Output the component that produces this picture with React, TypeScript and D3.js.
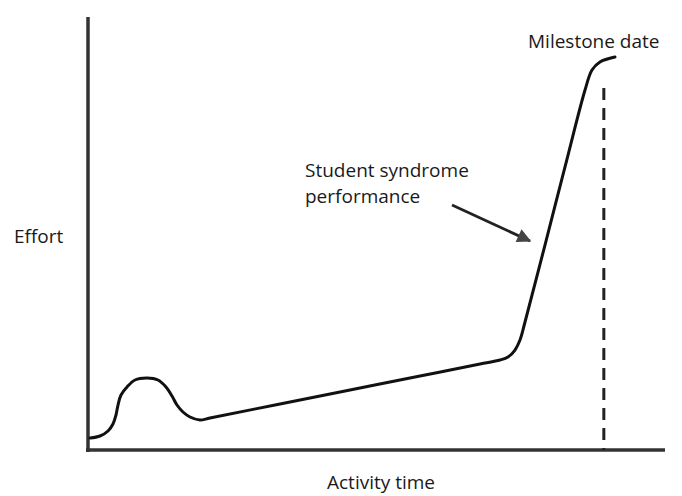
import { useEffect, useRef } from 'react';
import * as d3 from 'd3';

// activity time (0-100) vs effort (0-100)
const timeValues = [
  0.35, 2.08, 3.47, 4.33, 4.85, 5.2, 5.72, 6.76, 8.15, 10.23, 12.13, 13.52, 14.56, 15.42, 16.46, 17.68,
  19.41, 21.14, 33.28, 45.41, 57.54, 67.94, 71.4, 72.79, 74.0, 74.87, 75.74, 79.2, 82.67, 86.14, 87.35,
  88.73, 91.33,
];
const effortValues = [
  2.77, 3.23, 4.39, 6.0, 8.08, 10.39, 12.7, 14.55, 16.17, 16.63, 16.17, 14.55, 12.47, 10.39, 8.78, 7.62,
  6.93, 7.39, 10.62, 13.86, 17.09, 19.86, 20.79, 21.48, 23.09, 25.4, 29.56, 47.34, 65.36, 83.14, 87.76,
  89.61, 90.76,
];
const milestoneTime = 89.4;
const milestoneTop = 83.6;

const labels = {
  x: 'Activity time',
  y: 'Effort',
  milestone: 'Milestone date',
  note: ['Student syndrome', 'performance'],
};

const W = 682;
const H = 496;

export default function App() {
  const ref = useRef<SVGSVGElement | null>(null);

  useEffect(() => {
    document.body.style.margin = '0';
    const svg = d3.select(ref.current);
    svg.selectAll('*').remove();

    const x = d3.scaleLinear().domain([0, 100]).range([88, 665]);
    const y = d3.scaleLinear().domain([0, 100]).range([450, 17]);
    const font = '"Open Sans", sans-serif';

    // axes
    svg.append('line')
      .attr('x1', x(0)).attr('x2', x(0))
      .attr('y1', y(100)).attr('y2', y(0) + 2)
      .attr('stroke', '#333').attr('stroke-width', 3.5);
    svg.append('line')
      .attr('x1', x(0) - 2).attr('x2', x(100))
      .attr('y1', y(0)).attr('y2', y(0))
      .attr('stroke', '#333').attr('stroke-width', 3.5);

    // milestone marker
    svg.append('line')
      .attr('x1', x(milestoneTime)).attr('x2', x(milestoneTime))
      .attr('y1', y(milestoneTop)).attr('y2', y(0))
      .attr('stroke', '#222').attr('stroke-width', 3)
      .attr('stroke-dasharray', '12 8');

    const pts = timeValues.map((t, i) => [t, effortValues[i]] as [number, number]);
    const line = d3.line<[number, number]>()
      .x(d => x(d[0]))
      .y(d => y(d[1]))
      .curve(d3.curveCatmullRom.alpha(0.5));

    svg.append('path')
      .attr('d', line(pts))
      .attr('fill', 'none')
      .attr('stroke', '#111')
      .attr('stroke-width', 3)
      .attr('stroke-linecap', 'round')
      .attr('stroke-linejoin', 'round');

    // arrow
    svg.append('defs').append('marker')
      .attr('id', 'head')
      .attr('viewBox', '0 0 10 10')
      .attr('refX', 9).attr('refY', 5)
      .attr('markerWidth', 6).attr('markerHeight', 5)
      .attr('markerUnits', 'strokeWidth')
      .attr('orient', 'auto')
      .append('path')
      .attr('d', 'M0,0L10,5L0,10Z')
      .attr('fill', '#444');
    svg.append('line')
      .attr('x1', 452).attr('y1', 205)
      .attr('x2', 530).attr('y2', 241)
      .attr('stroke', '#222').attr('stroke-width', 2.8)
      .attr('marker-end', 'url(#head)');

    const text = (s: string, tx: number, ty: number) =>
      svg.append('text')
        .attr('x', tx).attr('y', ty)
        .attr('font-family', font)
        .attr('font-size', 19)
        .attr('fill', '#1a1a1a')
        .text(s);

    text(labels.y, 14, 243);
    text(labels.x, 327, 489);
    text(labels.milestone, 528, 48);
    labels.note.forEach((s, i) => text(s, 305, 177 + i * 26));
  }, []);

  return <svg ref={ref} width={W} height={H} style={{ display: 'block' }}></svg>;
}
